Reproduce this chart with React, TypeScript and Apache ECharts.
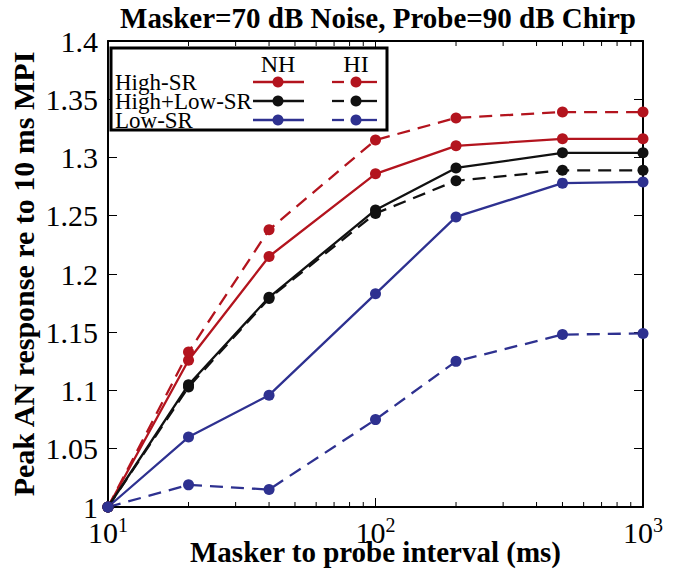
import React, { useEffect, useRef } from "react";
import * as echarts from "echarts";

const intervals = [10, 20, 40, 100, 200, 500, 1000];
const highNH = [1, 1.126, 1.215, 1.286, 1.31, 1.316, 1.316];
const highHI = [1, 1.133, 1.238, 1.315, 1.334, 1.339, 1.339];
const bothNH = [1, 1.105, 1.18, 1.255, 1.291, 1.304, 1.304];
const bothHI = [1, 1.103, 1.179, 1.252, 1.28, 1.289, 1.289];
const lowNH = [1, 1.06, 1.096, 1.183, 1.249, 1.278, 1.279];
const lowHI = [1, 1.019, 1.015, 1.075, 1.125, 1.148, 1.149];
const minorTicks = [20, 30, 40, 50, 60, 70, 80, 90, 200, 300, 400, 500, 600, 700, 800, 900];
const legendRows = ["High-SR", "High+Low-SR", "Low-SR"];
const legendCols = ["NH", "HI"];

const RED = "#b3141e";
const BLACK = "#111111";
const BLUE = "#2e3190";
const colors = [RED, BLACK, BLUE];
const FONT = "Liberation Serif";
const DASH = [13, 8];

const mk = (name: string, vals: number[], color: string, dashed: boolean) => ({
  name,
  type: "line",
  xAxisIndex: 0,
  yAxisIndex: 0,
  data: intervals.map((x, i) => [x, vals[i]]),
  symbol: "circle",
  symbolSize: 11,
  itemStyle: { color },
  lineStyle: { color, width: 2.3, type: dashed ? DASH : "solid" },
  z: 3,
});

export default function App() {
  const ref = useRef<HTMLDivElement>(null);
  useEffect(() => {
    if (!ref.current) return;
    const chart = echarts.init(ref.current, null, { renderer: "svg" });
    const left = 108, right = 39, top = 41, bottom = 63;

    const legendGraphics: any[] = [
      {
        type: "rect",
        shape: { x: 111, y: 48, width: 276, height: 82 },
        style: { fill: "#fff", stroke: "#000", lineWidth: 3 },
        z: 10,
      },
    ];
    legendCols.forEach((c, j) => {
      legendGraphics.push({
        type: "text",
        x: j === 0 ? 278 : 356,
        y: 64,
        style: { text: c, fontFamily: FONT, fontSize: 24, fill: "#000", align: "center", verticalAlign: "middle" },
        z: 11,
      });
    });
    legendRows.forEach((r, i) => {
      const y = 82 + i * 19;
      legendGraphics.push({
        type: "text",
        x: 115,
        y,
        style: { text: r, fontFamily: FONT, fontSize: 23, fill: "#000", align: "left", verticalAlign: "middle" },
        z: 11,
      });
      legendGraphics.push({
        type: "line",
        shape: { x1: 253, y1: y, x2: 304, y2: y },
        style: { stroke: colors[i], lineWidth: 2.3 },
        z: 11,
      });
      legendGraphics.push({
        type: "circle",
        shape: { cx: 278, cy: y, r: 5.5 },
        style: { fill: colors[i] },
        z: 12,
      });
      legendGraphics.push({
        type: "line",
        shape: { x1: 332, y1: y, x2: 344, y2: y },
        style: { stroke: colors[i], lineWidth: 2.3 },
        z: 11,
      });
      legendGraphics.push({
        type: "line",
        shape: { x1: 356, y1: y, x2: 377, y2: y },
        style: { stroke: colors[i], lineWidth: 2.3 },
        z: 11,
      });
      legendGraphics.push({
        type: "circle",
        shape: { cx: 356, cy: y, r: 5.5 },
        style: { fill: colors[i] },
        z: 12,
      });
    });

    const option: any = {
      animation: false,
      backgroundColor: "#fff",
      textStyle: { fontFamily: FONT },
      grid: { left, right, top, bottom, containLabel: false, outerBoundsMode: "none" },
      graphic: [
        {
          type: "text",
          x: 378,
          y: 18,
          style: {
            text: "Masker=70 dB Noise, Probe=90 dB Chirp",
            fontFamily: FONT,
            fontWeight: "bold",
            fontSize: 29,
            fill: "#000",
            align: "center",
            verticalAlign: "middle",
          },
        },
        ...legendGraphics,
      ],
      xAxis: [
        {
          type: "log",
          logBase: 10,
          min: 10,
          max: 1000,
          position: "bottom",
          name: "Masker to probe interval (ms)",
          nameLocation: "middle",
          nameGap: 30,
          nameMoveOverlap: false,
          nameTextStyle: { fontFamily: FONT, fontWeight: "bold", fontSize: 29, color: "#000" },
          axisLine: { show: true, onZero: false, lineStyle: { color: "#000", width: 2 } },
          axisTick: { show: true, inside: true, length: 9, lineStyle: { color: "#000", width: 1 } },
          splitLine: { show: false },
          axisLabel: {
            margin: 8,
            color: "#000",
            formatter: (v: number) => `{b|10}{s|${Math.round(Math.log10(v))}}`,
            rich: {
              b: { fontFamily: FONT, fontSize: 30, color: "#000" },
              s: { fontFamily: FONT, fontSize: 20, color: "#000", padding: [0, 0, 14, 0] },
            },
          },
        },
        {
          type: "log",
          logBase: 10,
          min: 10,
          max: 1000,
          position: "top",
          axisLine: { show: true, onZero: false, lineStyle: { color: "#000", width: 2 } },
          axisTick: { show: true, inside: true, length: 9, lineStyle: { color: "#000", width: 1 } },
          axisLabel: { show: false },
          splitLine: { show: false },
        },
      ],
      yAxis: [
        {
          type: "value",
          min: 1,
          max: 1.4,
          interval: 0.05,
          position: "left",
          name: "Peak AN response re to 10 ms MPI",
          nameLocation: "middle",
          nameGap: 70,
          nameMoveOverlap: false,
          nameRotate: 90,
          nameTextStyle: { fontFamily: FONT, fontWeight: "bold", fontSize: 30, color: "#000" },
          axisLine: { show: true, onZero: false, lineStyle: { color: "#000", width: 2 } },
          axisTick: { show: true, inside: true, length: 9, lineStyle: { color: "#000", width: 1 } },
          splitLine: { show: false },
          axisLabel: {
            margin: 10,
            color: "#000",
            fontFamily: FONT,
            fontSize: 30,
            formatter: (v: number) => String(Math.round(v * 100) / 100),
          },
        },
        {
          type: "value",
          min: 1,
          max: 1.4,
          interval: 0.05,
          position: "right",
          axisLine: { show: true, onZero: false, lineStyle: { color: "#000", width: 2 } },
          axisTick: { show: true, inside: true, length: 9, lineStyle: { color: "#000", width: 1 } },
          splitLine: { show: false },
          axisLabel: { show: false },
        },
      ],
      series: [
        {
          type: "custom",
          xAxisIndex: 0,
          yAxisIndex: 0,
          silent: true,
          clip: false,
          encode: { x: 0 },
          data: minorTicks.map((v) => [v]),
          renderItem: (params: any, api: any) => {
            const x = api.coord([api.value(0), 1])[0];
            const cs = params.coordSys;
            const yb = cs.y + cs.height;
            const yt = cs.y;
            return {
              type: "group",
              children: [
                { type: "line", shape: { x1: x, y1: yb, x2: x, y2: yb - 5 }, style: { stroke: "#000", lineWidth: 1 } },
                { type: "line", shape: { x1: x, y1: yt, x2: x, y2: yt + 5 }, style: { stroke: "#000", lineWidth: 1 } },
              ],
            };
          },
          z: 1,
        },
        mk("High-SR NH", highNH, RED, false),
        mk("High-SR HI", highHI, RED, true),
        mk("High+Low-SR NH", bothNH, BLACK, false),
        mk("High+Low-SR HI", bothHI, BLACK, true),
        mk("Low-SR NH", lowNH, BLUE, false),
        mk("Low-SR HI", lowHI, BLUE, true),
      ],
    };
    chart.setOption(option);
    return () => chart.dispose();
  }, []);
  return <div ref={ref} style={{ width: 682, height: 570, position: "absolute", left: 0, top: 0 }} />;
}
